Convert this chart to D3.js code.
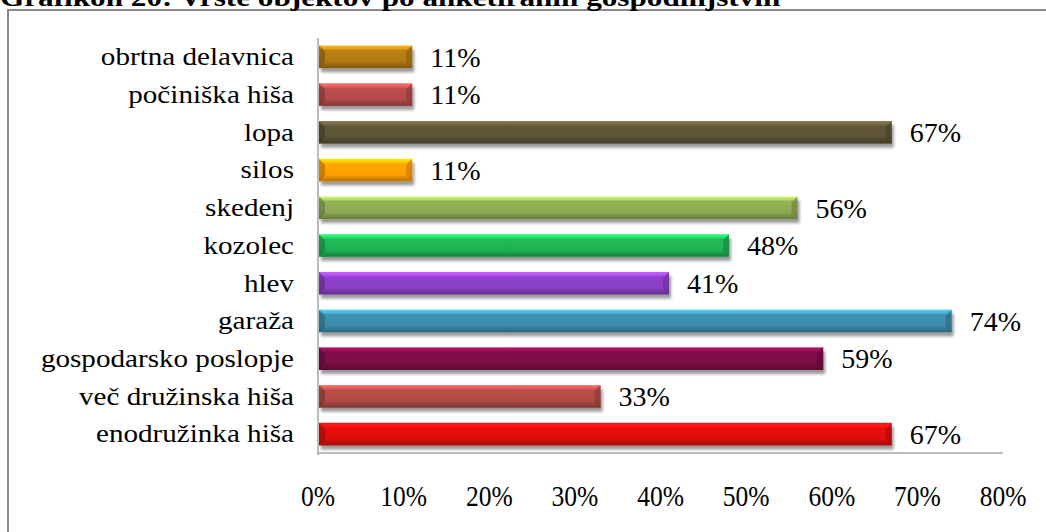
<!DOCTYPE html>
<html><head><meta charset="utf-8">
<script src="https://cdn.jsdelivr.net/npm/d3@7"></script>
<style>
html,body{margin:0;padding:0;background:#fff;overflow:hidden}
svg{display:block}
text{font-family:"Liberation Serif","Times New Roman",serif;fill:#000}
</style></head>
<body>
<svg id="c" width="1046" height="532"></svg>
<script>
const title = "Grafikon 20: Vrste objektov po anketiranih gospodinjstvih";
const categories = ["obrtna delavnica","počiniška hiša","lopa","silos","skedenj","kozolec","hlev","garaža","gospodarsko poslopje","več družinska hiša","enodružinka hiša"];
const values = [11,11,67,11,56,48,41,74,59,33,67];
const barColors = ["#B27A12","#B44A4A","#5C5336","#FFA000","#8DAA52","#1FB153","#8A3FC4","#3A8CAA","#7A0D45","#AF4A44","#E0100F"];
const ticks = [0,10,20,30,40,50,60,70,80];

const svg = d3.select("#c");
const defs = svg.append("defs");

// frame
svg.append("path").attr("d","M8,540 L8,10 L1060,10")
  .attr("fill","none").attr("stroke","#8a8a8a").attr("stroke-width",2);

// title (cut at top)
svg.append("text").attr("x",0).attr("y",6).attr("font-weight","bold")
  .attr("font-size",26).attr("transform","scale(1.2,1)").text(title);

const x = d3.scaleLinear().domain([0,80]).range([318,1003]);
const y = d3.scaleBand().domain(categories).range([38,453]).paddingInner(0.4).paddingOuter(0.2);

// shadow filter
const f = defs.append("filter").attr("id","sh").attr("x","-5%").attr("y","-50%").attr("width","110%").attr("height","200%");
f.append("feGaussianBlur").attr("in","SourceAlpha").attr("stdDeviation",1.8).attr("result","b");
f.append("feOffset").attr("in","b").attr("dx",2).attr("dy",4).attr("result","o");
f.append("feComponentTransfer").attr("in","o").attr("result","o2")
  .append("feFuncA").attr("type","linear").attr("slope",0.4);
const m = f.append("feMerge"); m.append("feMergeNode").attr("in","o2"); m.append("feMergeNode").attr("in","SourceGraphic");

// gradients
barColors.forEach((c,i)=>{
  const col = d3.color(c);
  const g = defs.append("linearGradient").attr("id","g"+i).attr("x1",0).attr("y1",0).attr("x2",0).attr("y2",1);
  const stops = [[0,col.brighter(1.1)],[0.14,col.brighter(0.7)],[0.22,col.brighter(0.15)],[0.7,col],[0.86,col.darker(0.5)],[1,col.darker(0.9)]];
  stops.forEach(s=>g.append("stop").attr("offset",s[0]).attr("stop-color",s[1].formatHex()));
});

// axes lines
svg.append("line").attr("x1",x(0)).attr("x2",x(0)).attr("y1",38).attr("y2",455).attr("stroke","#a6a6a6").attr("stroke-width",1.5);
svg.append("line").attr("x1",x(0)).attr("x2",x(80)).attr("y1",453).attr("y2",453).attr("stroke","#a6a6a6").attr("stroke-width",1.5);

const bars = svg.append("g").selectAll("g").data(categories).join("g");
bars.append("rect")
  .attr("x",x(0)+1).attr("y",d=>y(d)).attr("width",(d,i)=>x(values[i])-x(0)-1)
  .attr("height",y.bandwidth()).attr("fill",(d,i)=>`url(#g${i})`).attr("filter","url(#sh)");
// bevel ends
bars.append("path").attr("d",(d,i)=>{
  const x1=x(values[i]),t=y(d),h=y.bandwidth(),b=6;
  return `M${x1},${t} L${x1-b},${t+b} L${x1-b},${t+h-b} L${x1},${t+h} Z`;
}).attr("fill",(d,i)=>d3.color(barColors[i]).darker(0.7).formatHex()).attr("opacity",0.7);
bars.append("path").attr("d",(d,i)=>{
  const x0=x(0)+1,t=y(d),h=y.bandwidth(),b=6;
  return `M${x0},${t} L${x0+b},${t+b} L${x0+b},${t+h-b} L${x0},${t+h} Z`;
}).attr("fill",(d,i)=>d3.color(barColors[i]).darker(1.2).formatHex()).attr("opacity",0.6);

// data labels
bars.append("text").attr("transform",(d,i)=>`translate(${x(values[i])+18},${y(d)+y.bandwidth()/2})`)
  .attr("dy","0.35em").attr("font-size",28).text((d,i)=>values[i]+"%");

// category labels
svg.append("g").selectAll("text").data(categories).join("text")
  .attr("transform",d=>`translate(294,${y(d)+y.bandwidth()/2}) scale(1.12,1)`).attr("dy","0.32em")
  .attr("text-anchor","end").attr("font-size",26).text(d=>d);

// tick labels
svg.append("g").selectAll("text").data(ticks).join("text")
  .attr("transform",d=>`translate(${x(d)},506) scale(0.88,1)`).attr("text-anchor","middle").attr("font-size",29).text(d=>d+"%");
</script>
</body></html>
